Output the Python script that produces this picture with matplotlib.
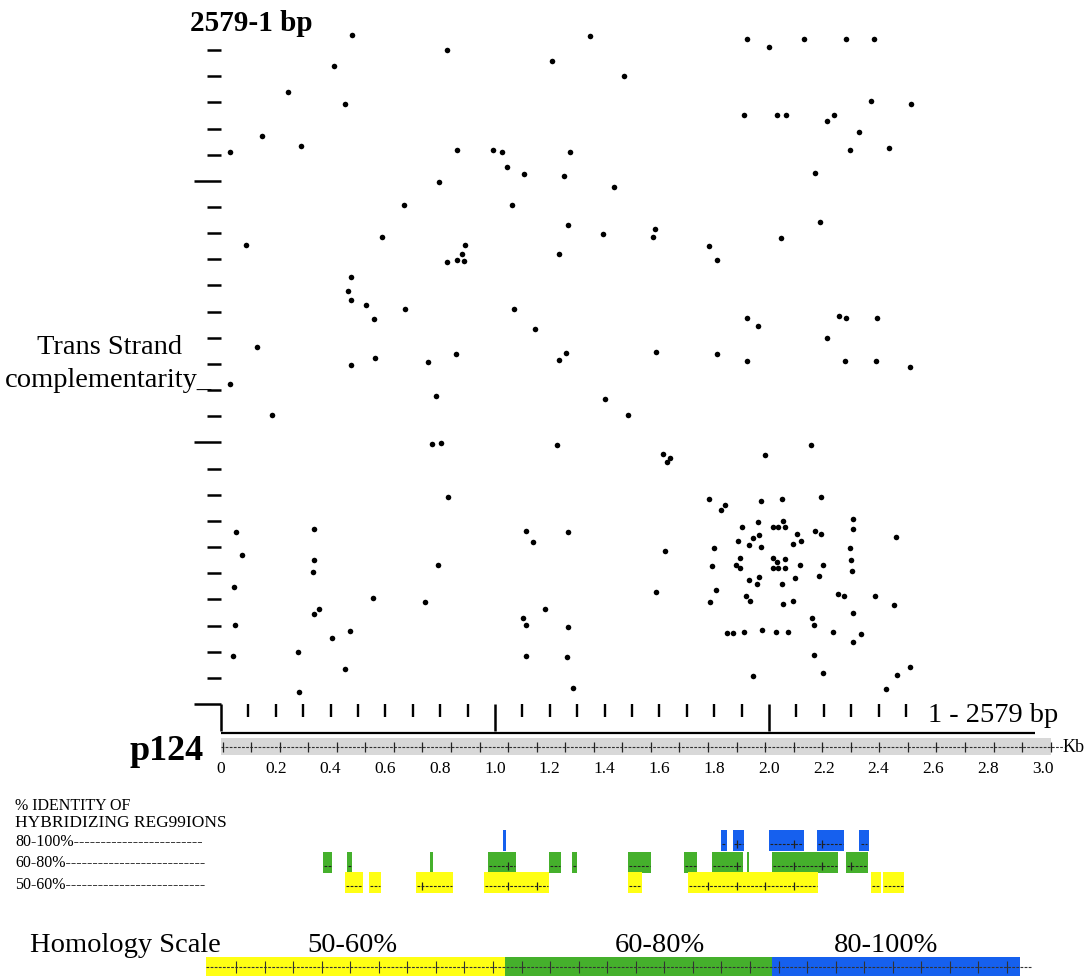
import matplotlib
matplotlib.use("Agg")
import matplotlib.pyplot as plt
from matplotlib.patches import Rectangle
import numpy as np

W, H = 1088, 976
plt.rcParams['font.family'] = ['Liberation Serif', 'DejaVu Serif']

# ---------------- data ----------------
# dot plot points (bp along sequence, bp along complementary strand)
dot_x_bp = [477, 826, 1207, 412, 243, 451, 151, 291, 33, 861, 994, 1027, 1274, 1043, 1106, 1251, 796, 668,
            1063, 1268, 588, 90, 889, 881, 826, 860, 887, 1233, 473, 462, 473, 530, 558, 673, 1069, 1147,
            131, 563, 754, 858, 1259, 1235, 474,
            1348, 1920, 2001, 2127, 2280, 2383, 1470, 2374, 2520, 1910, 2029, 2063, 2213, 2236, 2328, 2295,
            2438, 1433, 2168, 1394, 1585, 1577, 1781, 1809, 2186, 2045, 1920, 1961, 2256, 2280, 2394, 2213,
            1587, 1811, 1920, 2278, 2390,
            33, 786, 185, 771, 802, 1227, 830, 54, 339, 1113, 1265, 1138, 78, 339, 335, 793, 49, 555, 746,
            1184, 358, 339, 1101, 1113, 1265, 52, 470, 404, 45, 281, 453, 1113, 1264, 284,
            2515, 1400, 1484, 2152, 1987, 1614, 1639, 1627, 1781, 1824, 1840, 1971, 2049, 2190, 1960, 2050,
            2016, 2033, 2060, 1900, 2308, 2308, 2101, 2167, 2191, 2464, 1965, 1941, 1888, 1927, 1970, 1800,
            2089, 2116, 2296, 1621, 1894, 1879, 1895, 1792, 2016, 2028, 2060, 2016, 2034, 2060, 2113, 2197,
            2301, 2302, 1927, 1955, 1965, 2049, 2096, 2184, 1807, 1587, 1786, 1915, 1931, 2052, 2087, 2251,
            2274, 2388, 2456, 2308, 2157, 2166, 1846, 1868, 1910, 1975, 2025, 2068, 2235, 2336, 2308, 2166,
            2516, 2198, 2466, 1942, 1286, 2427]
dot_y_bp = [2557, 2500, 2459, 2439, 2341, 2295, 2173, 2132, 2109, 2119, 2119, 2110, 2110, 2052, 2026, 2019,
            1996, 1908, 1908, 1831, 1785, 1754, 1755, 1721, 1690, 1697, 1692, 1721, 1632, 1579, 1543, 1525,
            1471, 1511, 1511, 1434, 1364, 1322, 1306, 1337, 1340, 1315, 1296,
            2555, 2542, 2511, 2542, 2544, 2541, 2401, 2304, 2294, 2251, 2251, 2251, 2230, 2251, 2187, 2117,
            2124, 1975, 2029, 1797, 1817, 1785, 1751, 1699, 1844, 1783, 1477, 1445, 1483, 1476, 1476, 1398,
            1347, 1339, 1312, 1311, 1311,
            1222, 1176, 1105, 994, 999, 989, 793, 659, 670, 661, 656, 619, 570, 549, 506, 533, 447, 404, 389,
            364, 364, 345, 328, 301, 296, 301, 279, 252, 182, 199, 134, 182, 179, 47,
            1287, 1167, 1104, 990, 952, 957, 942, 926, 785, 742, 761, 776, 785, 790, 697, 698,
            677, 677, 677, 677, 708, 669, 651, 661, 651, 637, 645, 636, 623, 608, 600, 598,
            611, 623, 598, 585, 557, 531, 521, 528, 557, 544, 554, 519, 519, 519, 530, 531,
            551, 507, 475, 460, 486, 460, 481, 488, 437, 427, 389, 412, 394, 383, 394, 419,
            412, 412, 380, 347, 328, 302, 270, 270, 274, 282, 274, 274, 276, 266, 238, 186,
            143, 120, 110, 107, 60, 57]

seq_major_ticks = [0, 1000, 2000]
seq_minor_ticks = [v for v in range(100, 2600, 100) if v not in (1000, 2000)]

kb_labels = ["0", "0.2", "0.4", "0.6", "0.8", "1.0", "1.2", "1.4", "1.6", "1.8",
             "2.0", "2.2", "2.4", "2.6", "2.8", "3.0"]
kb_label_pos = [0.0, 0.2, 0.4, 0.6, 0.8, 1.0, 1.2, 1.4, 1.6, 1.8, 2.0, 2.2, 2.4, 2.6, 2.8, 3.0]

# hybridizing regions (kb start, kb end)
regions_80_100 = [(1.029, 1.040), (1.824, 1.846), (1.867, 1.910), (1.999, 2.128), (2.174, 2.274), (2.330, 2.364)]
regions_60_80 = [(0.372, 0.405), (0.460, 0.478), (0.763, 0.774), (0.974, 1.077), (1.197, 1.241), (1.281, 1.299),
                 (1.485, 1.569), (1.690, 1.737), (1.792, 1.905), (1.920, 1.927), (2.011, 2.252), (2.281, 2.361)]
regions_50_60 = [(0.453, 0.518), (0.540, 0.584), (0.712, 0.847), (0.960, 1.197), (1.485, 1.536),
                 (1.704, 2.179), (2.372, 2.409), (2.416, 2.493)]

homology_labels = ["50-60%", "60-80%", "80-100%"]
homology_edges = [-0.055, 1.036, 2.011, 2.916]

YELLOW = '#ffff14'
GREEN = '#45b02c'
BLUE = '#1660ee'
RULER_STEP = 0.1042


def rect(x0, y0, x1, y1):
    return [x0 / W, 1 - y1 / H, (x1 - x0) / W, (y1 - y0) / H]


def ftext(x, y, s, **kw):
    fig.text(x / W, 1 - y / H, s, **kw)


fig = plt.figure(figsize=(W / 100, H / 100), dpi=100)

# ---------------- dot plot ----------------
ax = fig.add_axes(rect(221, 10.8, 1043, 704))
ax.set_xlim(0, 3000)
ax.set_ylim(0, 2650)
ax.scatter(dot_x_bp, dot_y_bp, s=16, c='black', marker='o', linewidths=0, clip_on=False)
for sp in ax.spines.values():
    sp.set_visible(False)
ax.set_xticks(seq_major_ticks)
ax.set_xticks(seq_minor_ticks, minor=True)
ax.set_yticks(seq_major_ticks)
ax.set_yticks(seq_minor_ticks, minor=True)
ax.tick_params(which='major', direction='out', length=19.5, width=1.8, color='black',
               labelbottom=False, labelleft=False)
ax.tick_params(which='minor', direction='out', length=9.8, width=1.8, color='black')
ax.tick_params(axis='x', which='minor', length=9.0, width=1.7)

ftext(190, 31, "2579-1 bp", fontsize=21, fontweight='bold', ha='left', va='baseline')
ftext(928, 722, "1 - 2579 bp", fontsize=20.5, ha='left', va='baseline')
ftext(110, 354, "Trans Strand", fontsize=20.5, ha='center', va='baseline')
ftext(5, 387, "complementarity_", fontsize=20.5, ha='left', va='baseline')

# ---------------- Kb ruler ----------------
kx = fig.add_axes(rect(221, 728, 1043, 760))
kx.set_xlim(0, 3.0)
kx.set_ylim(760, 728)
kx.axis('off')
kx.hlines(733, 0, 2.97, color='black', lw=1.6, clip_on=False)
kx.add_patch(Rectangle((0, 738), 3.03, 17, facecolor='#d8d8d8', edgecolor='none', clip_on=False))
kx.hlines(747, 0, 3.075, color='#333333', lw=0.8, linestyles=(0, (2.5, 1.2)), clip_on=False)
ruler = np.arange(0.006, 3.03, RULER_STEP)
kx.vlines(ruler, 742, 752, color='#222222', lw=0.9, clip_on=False)
for v, lab in zip(kb_label_pos, kb_labels):
    kx.text(v, 773, lab, fontsize=12.5, ha='center', va='baseline')
kx.text(3.07, 752, "Kb", fontsize=13, ha='left', va='baseline')
ftext(130, 760, "p124", fontsize=26, fontweight='bold', ha='left', va='baseline')

# ---------------- identity regions ----------------
ftext(15, 810, "% IDENTITY OF", fontsize=11.5, ha='left', va='baseline')
ftext(15, 827, "HYBRIDIZING REG99IONS", fontsize=12.5, ha='left', va='baseline')
ftext(15, 846, "80-100%" + "-" * 24, fontsize=11.5, ha='left', va='baseline')
ftext(15, 867, "60-80%" + "-" * 26, fontsize=11.5, ha='left', va='baseline')
ftext(15, 889, "50-60%" + "-" * 26, fontsize=11.5, ha='left', va='baseline')

ix = fig.add_axes(rect(221, 826, 1043, 896))
ix.set_xlim(0, 3.0)
ix.set_ylim(896, 826)
ix.axis('off')
rows = [(regions_80_100, BLUE, 830), (regions_60_80, GREEN, 852), (regions_50_60, YELLOW, 872)]
for regs, col, top in rows:
    ix.broken_barh([(s, e - s) for s, e in regs], (top, 21), facecolors=col, edgecolors='none')
    ly = top + 14
    for s, e in regs:
        if e - s > 0.015:
            ix.hlines(ly, s + 0.005, e - 0.005, color='#222222', lw=0.8, linestyles=(0, (2.5, 1.2)))
            tk = ruler[(ruler > s + 0.01) & (ruler < e - 0.01)]
            ix.vlines(tk, ly - 4, ly + 4, color='#222222', lw=0.9)

# ---------------- homology scale ----------------
ftext(30, 952, "Homology Scale", fontsize=20.5, ha='left', va='baseline')
for lab, xc in zip(homology_labels, [352, 660, 886]):
    ftext(xc, 952, lab, fontsize=20.5, ha='center', va='baseline')

hx = fig.add_axes(rect(221, 955, 1043, 976))
hx.set_xlim(0, 3.0)
hx.set_ylim(976, 955)
hx.axis('off')
for (a, b), col in zip(zip(homology_edges[:-1], homology_edges[1:]), [YELLOW, GREEN, BLUE]):
    hx.add_patch(Rectangle((a, 957), b - a, 20, facecolor=col, edgecolor='none', clip_on=False))
hx.hlines(967, homology_edges[0], homology_edges[-1] + 0.04, color='#333333', lw=0.8,
          linestyles=(0, (2.5, 1.2)), clip_on=False)
htk = np.arange(0.055, homology_edges[-1], RULER_STEP)
hx.vlines(htk, 961, 973, color='#333333', lw=0.8, clip_on=False)

fig.savefig("out.png", dpi=100)
